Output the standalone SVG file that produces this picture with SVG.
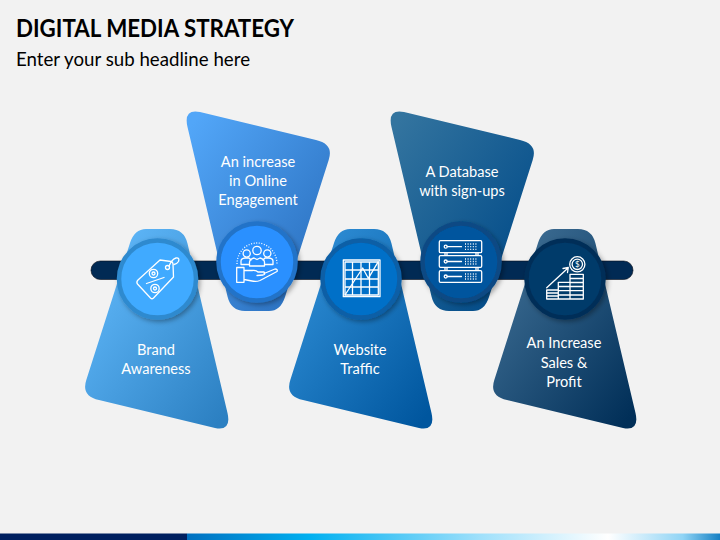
<svg xmlns="http://www.w3.org/2000/svg" width="720" height="540" viewBox="0 0 720 540">
<style>
text{font-family:"Lato","Open Sans","Liberation Sans",sans-serif}
.l{font-size:14.6px;fill:#fff;text-anchor:middle}
.i{fill:none;stroke:#fff;stroke-width:1.3;stroke-linejoin:round;stroke-linecap:round}
.d{fill:none;stroke:#fff;stroke-width:1.3;stroke-dasharray:1 1.6}
</style>
<defs>
<linearGradient id="g1" x1="0" y1="0" x2="1" y2="1"><stop offset="0.1" stop-color="#60B8FA"/><stop offset="0.95" stop-color="#2C80C2"/></linearGradient>
<linearGradient id="g2" x1="0" y1="0" x2="1" y2="1"><stop offset="0.05" stop-color="#52A6F8"/><stop offset="0.9" stop-color="#2A6FBE"/></linearGradient>
<linearGradient id="g3" x1="0" y1="0" x2="1" y2="1"><stop offset="0.1" stop-color="#2F8ED6"/><stop offset="0.95" stop-color="#00569E"/></linearGradient>
<linearGradient id="g4" x1="0" y1="0" x2="1" y2="1"><stop offset="0.05" stop-color="#33749F"/><stop offset="0.9" stop-color="#004A88"/></linearGradient>
<linearGradient id="g5" x1="0" y1="0" x2="1" y2="1"><stop offset="0.1" stop-color="#3E6E94"/><stop offset="0.95" stop-color="#012F58"/></linearGradient>
<linearGradient id="foot" x1="0" y1="0" x2="1" y2="0"><stop offset="0" stop-color="#0070C0"/><stop offset="0.23" stop-color="#00B0F0"/><stop offset="0.55" stop-color="#9FE0FB"/><stop offset="0.79" stop-color="#FFFFFF"/><stop offset="0.93" stop-color="#90D4F5"/><stop offset="1" stop-color="#1580C4"/></linearGradient>
<filter id="sh" x="-20%" y="-20%" width="150%" height="150%"><feDropShadow dx="2" dy="2" stdDeviation="2.5" flood-color="#000" flood-opacity="0.35"/></filter>
<path id="up" d="M146,229 H170 Q184,229 187.5,243.5 L227.5,413 Q231.7,431.4 215,428 L99,400 Q81,396 86.3,380 L130,243 Q134.5,229 146,229 Z"/>
<path id="dn" d="M269,311 H245 Q231,311 227.5,296.5 L187.5,127 Q183.3,108.6 200,112 L316,140 Q334,144 328.7,160 L285,297 Q280.5,311 269,311 Z"/>
</defs>
<rect width="720" height="540" fill="#F2F2F2"/>
<text x="16" y="37" font-size="24.6" font-weight="700" fill="#000" textLength="278" lengthAdjust="spacingAndGlyphs">DIGITAL MEDIA STRATEGY</text>
<text x="16" y="66" font-size="18.4" fill="#000" textLength="234" lengthAdjust="spacingAndGlyphs">Enter your sub headline here</text>
<g id="connectors">
<rect x="91" y="261" width="542" height="18.5" rx="9.2" fill="#012A54" stroke="#0B0F1A" stroke-width="0.6"/>
</g>
<g id="node1">
<use href="#up" fill="url(#g1)"/>
<circle cx="157.5" cy="279" r="38.5" fill="#3FAAFF" stroke="#2F8ACF" stroke-width="4.5" filter="url(#sh)"/>
<path class="i" d="M160,260 L171,261.5 Q173,262 173,264 L173.5,277 L153.5,298 Q152,299.5 150.5,298 L137.5,284 Q136,282 138,280 Z"/>
<circle class="i" cx="167.5" cy="267.5" r="2"/>
<path class="i" d="M169,266 Q172,259 176,258 Q180,257.5 178.5,261.5 Q177,264 174,264.5"/>
<circle class="i" cx="153.5" cy="273.5" r="4.2"/><circle class="i" cx="153.5" cy="273.5" r="1.5"/>
<circle class="i" cx="155" cy="288.5" r="4.2"/><circle class="i" cx="155" cy="288.5" r="1.5"/>
<path class="i" d="M146.5,283.5 L164,277.5"/>
<text class="l" x="156" y="354.5">Brand</text>
<text class="l" x="156" y="374">Awareness</text>
</g>
<g id="node2">
<use href="#dn" fill="url(#g2)"/>
<circle cx="257" cy="262" r="38.5" fill="#2A90FF" stroke="#2273C8" stroke-width="4.5" filter="url(#sh)"/>
<path class="d" d="M237,264 A20,21 0 0 1 277,264"/>
<circle class="i" cx="246.7" cy="253.5" r="3.6"/><circle class="i" cx="257" cy="250.5" r="4.2"/><circle class="i" cx="267.3" cy="253.5" r="3.6"/>
<path class="i" d="M241,264.5 V261 Q241,258.5 245,258 H249 L251,260 M273,264.5 V261 Q273,258.5 269,258 H265 L263,260 M249.5,266 V262 Q250,259 254,258 L257,259.5 L260,258 Q264,259 264.5,262 V266 M241,264.5 H249.5 M264.5,264.5 H273 M249.5,266 H264.5"/>
<path class="i" d="M236.7,267.5 H244 V282.3 H236.7 Z M244,270.5 H252 Q256,270 258,272 H264 Q266,274 263,275 L257,275.5 M264,273.5 L275,269 Q278,269 277,271.5 L260,280.5 Q256,282 252,281 L244,279.5"/>
<text class="l" x="258" y="167">An increase</text>
<text class="l" x="258" y="186">in Online</text>
<text class="l" x="258" y="205">Engagement</text>
</g>
<g id="node3">
<use href="#up" x="204" fill="url(#g3)"/>
<circle cx="361" cy="279" r="38.5" fill="#0070C8" stroke="#0A5EA6" stroke-width="4.5" filter="url(#sh)"/>
<path class="i" d="M343.3,260 H380 V296.7 H343.3 Z M345,262 H378.3 V295 H345 Z M352.5,262 V295 M361,262 V295 M369.5,262 V295 M345,270 H378.3 M345,279 H378.3 M345,287 H378.3"/>
<path class="i" stroke-width="1.5" d="M345,295 L362.7,268 L368.3,278.3 L378.3,261.7"/>
<text class="l" x="360" y="354.5">Website</text>
<text class="l" x="360" y="374">Traffic</text>
</g>
<g id="node4">
<use href="#dn" x="204" fill="url(#g4)"/>
<circle cx="461" cy="262" r="38.5" fill="#00559E" stroke="#0B4A84" stroke-width="4.5" filter="url(#sh)"/>
<path class="i" d="M440.5,240.7 H480.5 Q481.7,240.7 481.7,242 V251.5 Q481.7,252.7 480.5,252.7 H440.5 Q439.3,252.7 439.3,251.5 V242 Q439.3,240.7 440.5,240.7 Z M440.5,255.7 H480.5 Q481.7,255.7 481.7,257 V266 Q481.7,267.3 480.5,267.3 H440.5 Q439.3,267.3 439.3,266 V257 Q439.3,255.7 440.5,255.7 Z M440.5,270.7 H480.5 Q481.7,270.7 481.7,272 V281 Q481.7,282.3 480.5,282.3 H440.5 Q439.3,282.3 439.3,281 V272 Q439.3,270.7 440.5,270.7 Z M445,252.7 V255.7 M447,252.7 V255.7 M476,252.7 V255.7 M478,252.7 V255.7 M445,267.3 V270.7 M447,267.3 V270.7 M476,267.3 V270.7 M478,267.3 V270.7"/>
<circle class="i" cx="445.7" cy="246.7" r="1.5"/><circle class="i" cx="445.7" cy="261.5" r="1.5"/><circle class="i" cx="445.7" cy="276.5" r="1.5"/>
<path class="i" d="M447.2,246.7 H461.5 M447.2,261.5 H461.5 M447.2,276.5 H461.5"/>
<path class="d" stroke-width="1.2" d="M465,244 H478 M465,246.7 H478 M465,249.4 H478 M465,259 H478 M465,261.5 H478 M465,264 H478 M465,274 H478 M465,276.5 H478 M465,279 H478"/>
<text class="l" x="462" y="177">A Database</text>
<text class="l" x="462" y="196">with sign-ups</text>
</g>
<g id="node5">
<use href="#up" x="408" fill="url(#g5)"/>
<circle cx="565" cy="279" r="38.5" fill="#013A6B" stroke="#012F58" stroke-width="4.5" filter="url(#sh)"/>
<circle class="i" cx="577.3" cy="264.3" r="7.6"/><circle class="i" cx="577.3" cy="264.3" r="5.2"/>
<text x="577.3" y="267.3" font-size="8" fill="#fff" text-anchor="middle">$</text>
<path class="i" d="M546.7,287.7 L568,268 M563,268.5 L568.3,267.5 L567.5,272.5"/>
<path class="i" d="M546.7,290 H558.3 V299 H546.7 Z M546.7,293 H558.3 M546.7,296 H558.3 M558.3,282.3 H570 V299 H558.3 Z M558.3,286.5 H570 M558.3,290.7 H570 M558.3,295 H570 M570,274.3 H583.3 V299 H570 Z M570,278.5 H583.3 M570,282.5 H583.3 M570,286.5 H583.3 M570,290.7 H583.3 M570,295 H583.3"/>
<text class="l" x="564" y="348">An Increase</text>
<text class="l" x="564" y="367.5">Sales &amp;</text>
<text class="l" x="564" y="386.5">Profit</text>
</g>
<rect x="0" y="533.5" width="187" height="6.5" fill="#002060"/>
<rect x="187" y="533.5" width="533" height="6.5" fill="url(#foot)"/>
</svg>
